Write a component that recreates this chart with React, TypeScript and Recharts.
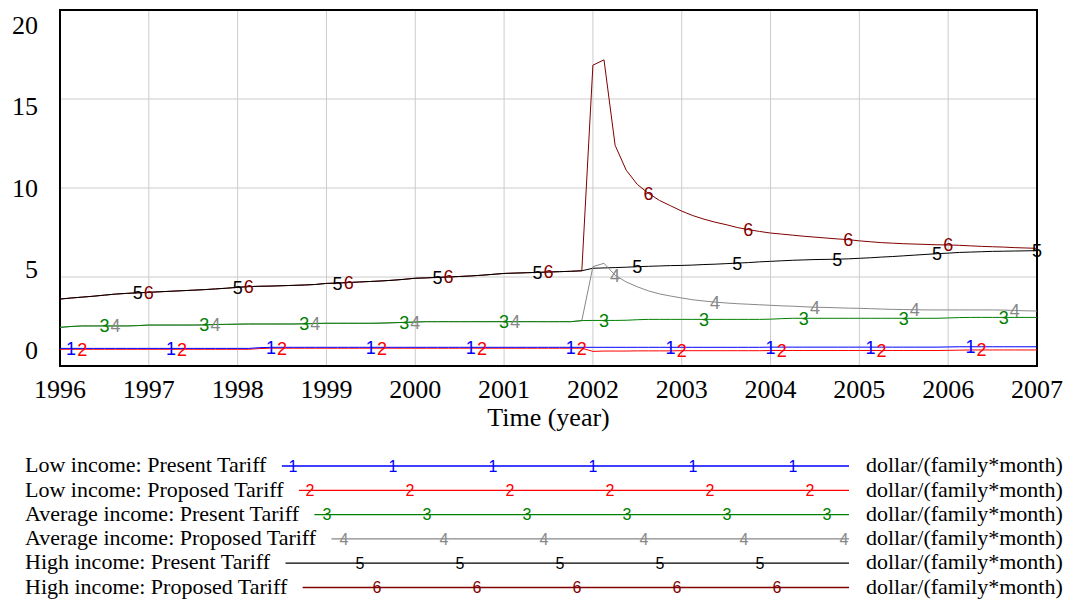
import { LineChart, Line, XAxis, YAxis, CartesianGrid, ReferenceArea } from "recharts";

// simulation time grid, TIME STEP = 0.125 year
const TIME = Array.from({ length: 89 }, (_, i) => 1996 + i * 0.125);

const xTicks = [1996, 1997, 1998, 1999, 2000, 2001, 2002, 2003, 2004, 2005, 2006, 2007];
const yTicks = [0, 5, 10, 15, 20];

// values per year: t = Y, Y+.125, ... Y+.875 ; last value is 2007
const lowPresent = [
  0.99, 0.99, 0.99, 0.99, 0.99, 0.99, 0.99, 0.99,
  0.99, 0.99, 0.99, 0.99, 0.99, 0.99, 0.99, 0.99,
  0.99, 0.99, 1.03, 1.05, 1.05, 1.05, 1.05, 1.05,
  1.05, 1.05, 1.05, 1.05, 1.05, 1.05, 1.05, 1.05,
  1.05, 1.05, 1.05, 1.05, 1.05, 1.05, 1.05, 1.05,
  1.05, 1.05, 1.05, 1.05, 1.05, 1.05, 1.05, 1.05,
  1.05, 1.05, 1.05, 1.05, 1.05, 1.05, 1.05, 1.05,
  1.05, 1.05, 1.05, 1.05, 1.05, 1.05, 1.05, 1.05,
  1.06, 1.06, 1.06, 1.06, 1.06, 1.06, 1.06, 1.06,
  1.06, 1.06, 1.06, 1.06, 1.06, 1.06, 1.06, 1.06,
  1.07, 1.08, 1.08, 1.08, 1.08, 1.08, 1.08, 1.08,
  1.08,
];
const lowProposed = [
  0.94, 0.94, 0.94, 0.94, 0.94, 0.94, 0.94, 0.94,
  0.94, 0.94, 0.94, 0.94, 0.94, 0.94, 0.94, 0.94,
  0.94, 0.94, 0.98, 1.0, 1.0, 1.0, 1.0, 1.0,
  1.0, 1.0, 1.0, 1.0, 1.0, 1.0, 1.0, 1.0,
  1.0, 1.0, 1.0, 1.0, 1.0, 1.0, 1.0, 1.0,
  1.0, 1.0, 1.0, 1.0, 1.0, 1.0, 1.0, 1.0,
  0.82, 0.84, 0.84, 0.84, 0.85, 0.85, 0.85, 0.85,
  0.86, 0.86, 0.86, 0.86, 0.86, 0.86, 0.86, 0.86,
  0.87, 0.87, 0.87, 0.87, 0.87, 0.87, 0.87, 0.87,
  0.87, 0.87, 0.87, 0.87, 0.87, 0.87, 0.87, 0.87,
  0.88, 0.89, 0.9, 0.9, 0.9, 0.9, 0.9, 0.9,
  0.9,
];
const avgPresent = [
  2.17, 2.22, 2.25, 2.25, 2.25, 2.25, 2.25, 2.27,
  2.3, 2.3, 2.3, 2.3, 2.3, 2.31, 2.33, 2.34,
  2.35, 2.36, 2.36, 2.36, 2.36, 2.36, 2.37, 2.39,
  2.4, 2.4, 2.4, 2.4, 2.4, 2.41, 2.43, 2.45,
  2.47, 2.49, 2.49, 2.49, 2.49, 2.49, 2.49, 2.49,
  2.49, 2.49, 2.49, 2.49, 2.49, 2.49, 2.49, 2.55,
  2.56, 2.56, 2.56, 2.57, 2.6, 2.62, 2.62, 2.62,
  2.62, 2.62, 2.62, 2.62, 2.62, 2.62, 2.62, 2.62,
  2.63, 2.66, 2.68, 2.68, 2.68, 2.68, 2.68, 2.68,
  2.68, 2.68, 2.68, 2.68, 2.68, 2.68, 2.68, 2.68,
  2.7, 2.72, 2.73, 2.73, 2.73, 2.73, 2.73, 2.73,
  2.73,
];
const avgProposed = [
  2.17, 2.22, 2.25, 2.25, 2.25, 2.25, 2.25, 2.27,
  2.3, 2.3, 2.3, 2.3, 2.3, 2.31, 2.33, 2.34,
  2.35, 2.36, 2.36, 2.36, 2.36, 2.36, 2.37, 2.39,
  2.4, 2.4, 2.4, 2.4, 2.4, 2.41, 2.43, 2.45,
  2.47, 2.49, 2.49, 2.49, 2.49, 2.49, 2.49, 2.49,
  2.49, 2.49, 2.49, 2.49, 2.49, 2.49, 2.49, 2.55,
  5.58, 5.77, 5.1, 4.72, 4.45, 4.22, 4.05, 3.93,
  3.82, 3.72, 3.65, 3.59, 3.54, 3.5, 3.47, 3.44,
  3.41, 3.38, 3.36, 3.33, 3.3, 3.29, 3.27, 3.25,
  3.24, 3.22, 3.2, 3.18, 3.17, 3.16, 3.15, 3.15,
  3.15, 3.15, 3.15, 3.15, 3.15, 3.14, 3.12, 3.1,
  3.09,
];
const highPresent = [
  3.76, 3.82, 3.87, 3.92, 3.98, 4.04, 4.08, 4.11,
  4.14, 4.17, 4.2, 4.23, 4.26, 4.29, 4.33, 4.37,
  4.42, 4.46, 4.48, 4.49, 4.51, 4.53, 4.55, 4.58,
  4.64, 4.66, 4.69, 4.72, 4.75, 4.78, 4.82, 4.87,
  4.93, 4.95, 4.98, 5.0, 5.03, 5.06, 5.1, 5.15,
  5.2, 5.22, 5.24, 5.26, 5.28, 5.3, 5.32, 5.35,
  5.49, 5.51, 5.53, 5.55, 5.58, 5.6, 5.62, 5.64,
  5.65, 5.67, 5.7, 5.72, 5.75, 5.78, 5.81, 5.85,
  5.88, 5.91, 5.94, 5.96, 5.98, 5.99, 6.0, 6.02,
  6.05, 6.08, 6.12, 6.15, 6.19, 6.23, 6.27, 6.31,
  6.34, 6.38, 6.4, 6.42, 6.44, 6.45, 6.46, 6.47,
  6.48,
];
const highProposed = [
  3.76, 3.82, 3.87, 3.92, 3.98, 4.04, 4.08, 4.11,
  4.14, 4.17, 4.2, 4.23, 4.26, 4.29, 4.33, 4.37,
  4.42, 4.46, 4.48, 4.49, 4.51, 4.53, 4.55, 4.58,
  4.64, 4.66, 4.69, 4.72, 4.75, 4.78, 4.82, 4.87,
  4.93, 4.95, 4.98, 5.0, 5.03, 5.06, 5.1, 5.15,
  5.2, 5.22, 5.24, 5.26, 5.28, 5.3, 5.32, 5.35,
  16.9, 17.2, 12.4, 11.0, 10.2, 9.7, 9.3, 9.0,
  8.7, 8.45, 8.25, 8.08, 7.94, 7.78, 7.66, 7.56,
  7.47, 7.41, 7.35, 7.29, 7.24, 7.19, 7.14, 7.1,
  7.03, 6.98, 6.93, 6.9, 6.87, 6.85, 6.83, 6.81,
  6.8, 6.78, 6.75, 6.72, 6.7, 6.68, 6.65, 6.63,
  6.61,
];

// times where the series number is printed on the curve
const marks1 = [1996.125, 1997.25, 1998.375, 1999.5, 2000.625, 2001.75, 2002.875, 2004, 2005.125, 2006.25];
const marks2 = [1996.25, 1997.375, 1998.5, 1999.625, 2000.75, 2001.875, 2003, 2004.125, 2005.25, 2006.375];
const marks3 = [1996.5, 1997.625, 1998.75, 1999.875, 2001, 2002.125, 2003.25, 2004.375, 2005.5, 2006.625];
const marks4 = [1996.625, 1997.75, 1998.875, 2000, 2001.125, 2002.25, 2003.375, 2004.5, 2005.625, 2006.75];
const marks5 = [1996.875, 1998, 1999.125, 2000.25, 2001.375, 2002.5, 2003.625, 2004.75, 2005.875, 2007];
const marks6 = [1997, 1998.125, 1999.25, 2000.375, 2001.5, 2002.625, 2003.75, 2004.875, 2006];

const UNIT = "dollar/(family*month)";

const SERIES = [
  { key: "s1", label: "1", name: "Low income: Present Tariff", color: "#0000ff", values: lowPresent, marks: marks1 },
  { key: "s2", label: "2", name: "Low income: Proposed Tariff", color: "#ff0000", values: lowProposed, marks: marks2 },
  { key: "s3", label: "3", name: "Average income: Present Tariff", color: "#008000", values: avgPresent, marks: marks3 },
  { key: "s4", label: "4", name: "Average income: Proposed Tariff", color: "#888888", values: avgProposed, marks: marks4 },
  { key: "s5", label: "5", name: "High income: Present Tariff", color: "#000000", values: highPresent, marks: marks5 },
  { key: "s6", label: "6", name: "High income: Proposed Tariff", color: "#800000", values: highProposed, marks: marks6 },
];

const data = TIME.map((t, i) => {
  const row: any = { t };
  SERIES.forEach((s) => (row[s.key] = s.values[i]));
  return row;
});

const SERIF = "'Liberation Serif', 'Times New Roman', serif";
const SANS = "'Liberation Sans', Arial, sans-serif";
const PLOT_TOP = 10;
const PLOT_BOTTOM = 366;

function YTick(props: any) {
  const { y, payload } = props;
  // Vensim spreads the labels evenly between 25 and 350
  const ly = 25 + ((y - PLOT_TOP) * 325) / (PLOT_BOTTOM - PLOT_TOP);
  return (
    <text x={38} y={ly} dy="0.35em" textAnchor="end" fontSize={26} style={{ fontFamily: SERIF }} fill="#000">
      {payload.value}
    </text>
  );
}

function XTick(props: any) {
  const { x, payload } = props;
  return (
    <text x={x} y={389} dy="0.35em" textAnchor="middle" fontSize={26} style={{ fontFamily: SERIF }} fill="#000">
      {payload.value}
    </text>
  );
}

const makeDot = (s: any) => (props: any) => {
  const { cx, cy, payload, index } = props;
  const k = `${s.key}-${index}`;
  if (!s.marks.some((m: number) => Math.abs(m - payload.t) < 1e-6)) return <g key={k} />;
  return (
    <text key={k} x={cx} y={cy} dy="0.36em" textAnchor="middle" fontSize={18} style={{ fontFamily: SANS }} fill={s.color}>
      {s.label}
    </text>
  );
};

function measure(text: string) {
  const c = document.createElement("canvas").getContext("2d");
  if (!c) return text.length * 10;
  c.font = `22px ${SERIF}`;
  return c.measureText(text).width;
}

function KeyPanel() {
  const firstMark = [293, 310, 327, 344, 360, 377];
  return (
    <svg width={1067} height={172} style={{ position: "absolute", left: 0, top: 432 }}>
      {SERIES.map((s, i) => {
        const cy = 33 + i * 24.3;
        const start = 25 + measure(s.name) + 15;
        const end = 849;
        const xs: number[] = [];
        for (let x = firstMark[i]; x <= end; x += 100) xs.push(x);
        return (
          <g key={s.key}>
            <text x={25} y={cy} dy="0.33em" fontSize={22} style={{ fontFamily: SERIF }} fill="#000">
              {s.name}
            </text>
            <line x1={start} x2={end} y1={cy + 1} y2={cy + 1} stroke={s.color} strokeWidth={1.3} />
            {xs.map((x) => (
              <text key={x} x={x} y={cy + 1} dy="0.36em" textAnchor="middle" fontSize={16} style={{ fontFamily: SANS }} fill={s.color}>
                {s.label}
              </text>
            ))}
            <text x={866} y={cy} dy="0.33em" fontSize={22} style={{ fontFamily: SERIF }} fill="#000">
              {UNIT}
            </text>
          </g>
        );
      })}
    </svg>
  );
}

export default function App() {
  const drawOrder = [...SERIES].reverse();
  return (
    <div style={{ position: "relative", width: 1067, height: 604, background: "#fff", fontFamily: SERIF }}>
      <style>{`body{margin:0;background:#fff}`}</style>
      <LineChart width={1067} height={432} data={data} margin={{ top: PLOT_TOP, right: 30, bottom: 0, left: 0 }}>
        <CartesianGrid stroke="#cccccc" strokeWidth={1} />
        <XAxis
          dataKey="t"
          type="number"
          domain={[1996, 2007]}
          ticks={xTicks}
          tick={<XTick />}
          tickLine={false}
          axisLine={false}
          height={66}
          interval={0}
          label={{ value: "Time (year)", position: "insideBottom", offset: 6, fontSize: 26, fill: "#000" }}
        />
        <YAxis
          type="number"
          domain={[0, 20]}
          ticks={yTicks}
          tick={<YTick />}
          tickLine={false}
          axisLine={false}
          width={60}
          interval={0}
        />
        {drawOrder.map((s) => (
          <Line
            key={s.key}
            type="linear"
            dataKey={s.key}
            stroke={s.color}
            strokeWidth={1}
            dot={makeDot(s)}
            activeDot={false}
            isAnimationActive={false}
          />
        ))}
        <ReferenceArea x1={1996} x2={2007} y1={0} y2={20} fill="none" stroke="#000" strokeWidth={2} ifOverflow="visible" />
      </LineChart>
      <KeyPanel />
    </div>
  );
}
